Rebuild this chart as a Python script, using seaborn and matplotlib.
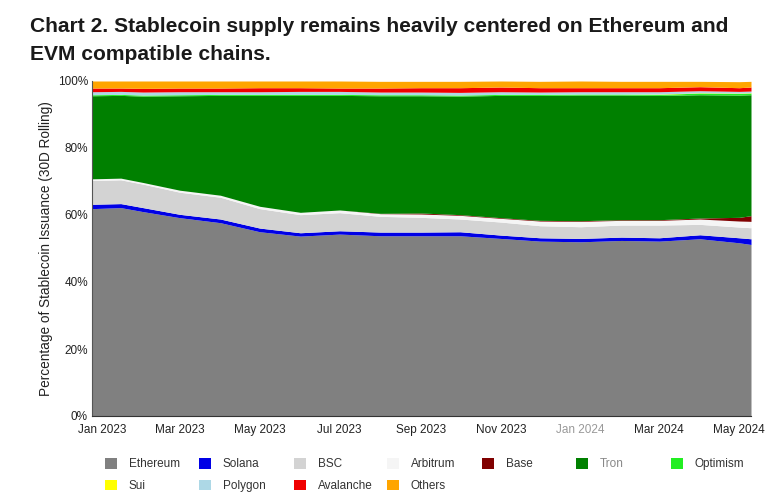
# Stablecoin supply share by chain, stacked area
import pandas as pd
import matplotlib.pyplot as plt
import matplotlib.dates as mdates
import seaborn as sns

# Dates the values were read at
dates = ['2022-12-24', '2023-01-15', '2023-02-01', '2023-03-01', '2023-04-01', '2023-05-01',
         '2023-06-01', '2023-07-01', '2023-08-01', '2023-09-01', '2023-10-01', '2023-11-01',
         '2023-12-01', '2024-01-01', '2024-02-01', '2024-03-01', '2024-04-01', '2024-05-01', '2024-05-10']

# Share of issuance per chain, in percent
ethereum = [61.9, 62.2, 61.0, 59.2, 57.7, 55.0, 53.7, 54.3, 53.8, 53.8, 53.8, 53.0, 52.2, 52.0, 52.4, 52.2, 52.9, 51.7, 51.2]
solana = [1.3, 1.2, 1.2, 1.0, 1.1, 1.1, 1.0, 1.0, 1.1, 1.1, 1.2, 1.0, 1.0, 1.0, 1.0, 1.0, 1.2, 1.5, 1.7]
bsc = [7.1, 7.1, 7.0, 6.6, 6.5, 5.8, 5.4, 5.4, 4.7, 4.4, 3.8, 3.9, 3.6, 3.5, 3.6, 3.8, 3.1, 3.2, 3.3]
arbitrum = [0.5, 0.5, 0.5, 0.6, 0.6, 0.7, 0.7, 0.8, 0.8, 1.0, 1.1, 1.1, 1.4, 1.6, 1.4, 1.4, 1.6, 1.8, 1.9]
base = [0.0, 0.0, 0.0, 0.0, 0.0, 0.0, 0.0, 0.0, 0.1, 0.3, 0.2, 0.2, 0.2, 0.2, 0.2, 0.2, 0.3, 1.1, 1.7]
tron = [24.8, 24.7, 25.8, 28.2, 29.8, 33.1, 34.9, 34.2, 35.1, 35.0, 35.4, 36.5, 37.3, 37.5, 37.2, 37.1, 36.8, 36.5, 36.1]
optimism = [0.3, 0.3, 0.3, 0.3, 0.3, 0.3, 0.3, 0.3, 0.3, 0.3, 0.3, 0.3, 0.3, 0.3, 0.3, 0.3, 0.5, 0.5, 0.5]
sui = [0.0, 0.0, 0.0, 0.0, 0.0, 0.0, 0.0, 0.0, 0.0, 0.0, 0.0, 0.0, 0.0, 0.0, 0.0, 0.1, 0.1, 0.1, 0.1]
polygon = [0.9, 0.9, 0.9, 0.9, 0.8, 0.8, 0.9, 0.9, 0.8, 0.8, 0.8, 0.8, 0.7, 0.7, 0.7, 0.7, 0.6, 0.5, 0.5]
avalanche = [1.1, 1.0, 1.1, 1.1, 1.1, 1.2, 1.1, 1.0, 1.2, 1.3, 1.4, 1.4, 1.3, 1.2, 1.2, 1.2, 1.2, 1.1, 1.2]
others = [2.1, 2.1, 2.2, 2.1, 2.1, 2.0, 2.0, 2.1, 2.0, 1.9, 1.9, 1.8, 1.9, 2.0, 1.9, 1.9, 1.6, 1.8, 1.7]

names = ['Ethereum', 'Solana', 'BSC', 'Arbitrum', 'Base', 'Tron', 'Optimism', 'Sui', 'Polygon', 'Avalanche', 'Others']
colors = ['#808080', '#0000e6', '#d3d3d3', '#f5f5f5', '#800000', '#008000', '#22ee22', '#ffff00', '#add8e6', '#f00000', '#ffa500']

tick_dates = ['2023-01-01', '2023-03-01', '2023-05-01', '2023-07-01', '2023-09-01',
              '2023-11-01', '2024-01-01', '2024-03-01', '2024-05-01']

sns.set_theme(style='white')
plt.rcParams['font.family'] = ['Liberation Sans', 'DejaVu Sans']

x = pd.to_datetime(dates)
series = [ethereum, solana, bsc, arbitrum, base, tron, optimism, sui, polygon, avalanche, others]

fig = plt.figure(figsize=(7.71, 4.98), dpi=100)
ax = fig.add_axes([92 / 771, 1 - 416 / 498, 659 / 771, 335 / 498])
areas = ax.stackplot(x, series, labels=names, colors=colors, linewidth=0)

ax.set_xlim(x[0], x[-1])
ax.set_ylim(0, 100)
ax.set_yticks([0, 20, 40, 60, 80, 100])
ax.set_yticklabels(['0%', '20%', '40%', '60%', '80%', '100%'], fontsize=8.5, color='#222222')
ax.set_xticks(pd.to_datetime(tick_dates))
ax.xaxis.set_major_formatter(mdates.DateFormatter('%b %Y'))
ax.tick_params(axis='x', labelsize=8.5, pad=6, length=0, labelcolor='#222222')
ax.tick_params(axis='y', pad=3, length=0)
ax.get_xticklabels()[6].set_color('#999999')
ax.set_ylabel('Percentage of Stablecoin Issuance (30D Rolling)', fontsize=9.8, color='#222222', labelpad=3)

sns.despine(ax=ax)
ax.spines['left'].set_color('#555555')
ax.spines['bottom'].set_color('#333333')
ax.spines['left'].set_linewidth(0.8)
ax.spines['bottom'].set_linewidth(0.8)

fig.text(30 / 771, 1 - 32 / 498, 'Chart 2. Stablecoin supply remains heavily centered on Ethereum and',
         fontsize=15.15, fontweight='bold', color='#1a1a1a', va='baseline')
fig.text(30 / 771, 1 - 60 / 498, 'EVM compatible chains.',
         fontsize=15.15, fontweight='bold', color='#1a1a1a', va='baseline')

# Columns in the legend are unevenly spaced, so each one is its own legend
legend_columns = [(['Ethereum', 'Sui'], 105), (['Solana', 'Polygon'], 199), (['BSC', 'Avalanche'], 294),
                  (['Arbitrum', 'Others'], 387), (['Base'], 482), (['Tron'], 576), (['Optimism'], 671)]
for labels, left in legend_columns:
    handles = [areas[names.index(label)] for label in labels]
    leg = fig.legend(handles, labels, loc='upper left', bbox_to_anchor=(left / 771, 1 - 458 / 498),
                     frameon=False, fontsize=8.5, handlelength=1.0, handleheight=1.0, handletextpad=1.0,
                     labelspacing=0.8, borderpad=0, borderaxespad=0)
    for text in leg.get_texts():
        text.set_color('#888888' if text.get_text() == 'Tron' else '#333333')

fig.savefig('out.png', dpi=100)
